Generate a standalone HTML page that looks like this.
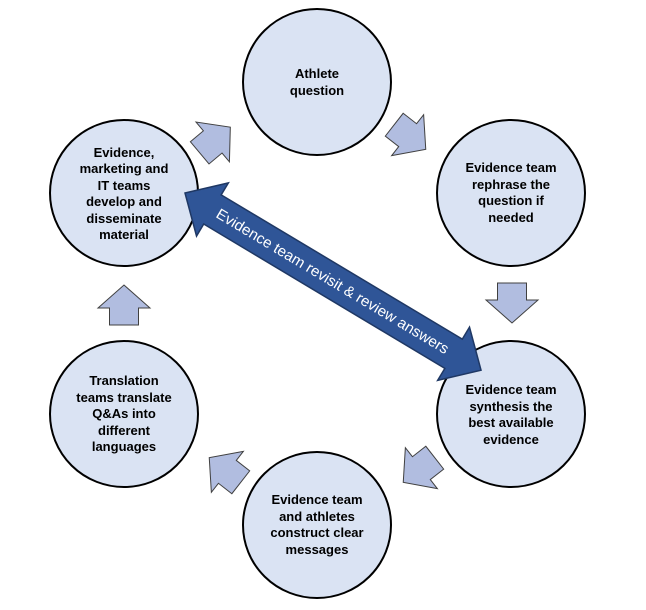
<!DOCTYPE html>
<html><head><meta charset="utf-8"><style>
html,body{margin:0;padding:0;background:#fff;}
svg{display:block;}
text{font-family:"Liberation Sans Narrow","Liberation Sans",sans-serif;font-weight:bold;font-size:13px;fill:#000;}
</style></head><body>
<svg width="646" height="610" viewBox="0 0 646 610" xmlns="http://www.w3.org/2000/svg">
<defs>
<polygon id="ba" points="-20,-14.5 -3,-14.5 -3,-26 20,0 -3,26 -3,14.5 -20,14.5" fill="#b1bde0" stroke="#404040" stroke-width="1"/>
</defs>
<g fill="#dae3f3" stroke="#000" stroke-width="2">
<ellipse cx="317" cy="82" rx="74" ry="73"/>
<ellipse cx="124" cy="193" rx="74" ry="73"/>
<ellipse cx="511" cy="193" rx="74" ry="73"/>
<ellipse cx="511" cy="414" rx="74" ry="73"/>
<ellipse cx="124" cy="414" rx="74" ry="73"/>
<ellipse cx="317" cy="525" rx="74" ry="73"/>
</g>
<use href="#ba" transform="translate(215,140) rotate(-40)"/>
<use href="#ba" transform="translate(410,137) rotate(38)"/>
<use href="#ba" transform="translate(512,303) rotate(90)"/>
<use href="#ba" transform="translate(419,470) rotate(142)"/>
<use href="#ba" transform="translate(225,470) rotate(-142)"/>
<use href="#ba" transform="translate(124,305) rotate(-90)"/>
<g transform="translate(185,193) rotate(30.9)">
<polygon points="0,0 32,-31 32,-17 313,-17 313,-31 345,0 313,31 313,17 32,17 32,31" fill="#2f5597" stroke="#1f3864" stroke-width="1.5"/>
<text x="172" y="5" text-anchor="middle" style="fill:#fff;font-weight:normal;font-size:15px" textLength="268" lengthAdjust="spacingAndGlyphs">Evidence team revisit &amp; review answers</text>
</g>
<g text-anchor="middle">
<text x="317" y="78">Athlete</text>
<text x="317" y="95">question</text>
<text x="124" y="157">Evidence,</text>
<text x="124" y="173">marketing and</text>
<text x="124" y="190">IT teams</text>
<text x="124" y="206">develop and</text>
<text x="124" y="223">disseminate</text>
<text x="124" y="239">material</text>
<text x="511" y="172">Evidence team</text>
<text x="511" y="189">rephrase the</text>
<text x="511" y="205">question if</text>
<text x="511" y="222">needed</text>
<text x="511" y="394">Evidence team</text>
<text x="511" y="411">synthesis the</text>
<text x="511" y="427">best available</text>
<text x="511" y="444">evidence</text>
<text x="124" y="385">Translation</text>
<text x="124" y="402">teams translate</text>
<text x="124" y="418">Q&amp;As into</text>
<text x="124" y="435">different</text>
<text x="124" y="451">languages</text>
<text x="317" y="504">Evidence team</text>
<text x="317" y="521">and athletes</text>
<text x="317" y="537">construct clear</text>
<text x="317" y="554">messages</text>
</g>
</svg>
</body></html>
